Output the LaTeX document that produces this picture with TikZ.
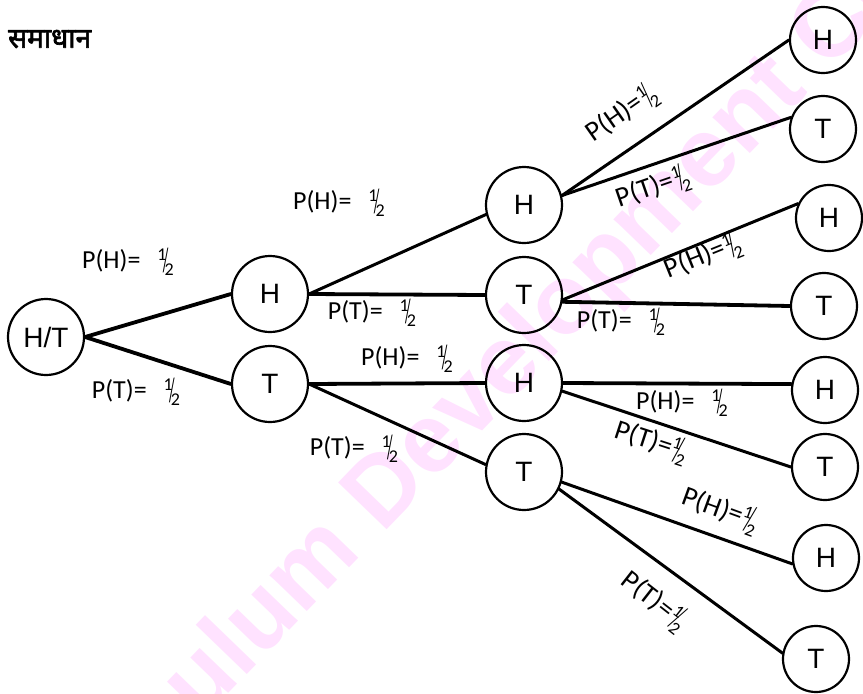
\documentclass[tikz,border=0pt]{standalone}
\usepackage{fontspec}
\setmainfont{Carlito}
\newfontfamily\coinfont{Liberation Sans}
\newfontfamily\devfont[Script=Devanagari, AutoFakeBold=2.5]{Noto Sans}
\definecolor{wmpink}{RGB}{255,226,255}
\newcommand{\pgap}{\hspace{0.65em}}
\newcommand{\half}{\raisebox{0.3em}{\fontsize{18}{18}\selectfont 1}\kern-0.14em\raisebox{-0.12em}{\scalebox{0.55}[1.3]{/}}\kern-0.14em\raisebox{-0.27em}{\fontsize{18}{18}\selectfont 2}}
\tikzset{
  coin/.style={circle, draw, line width=2.2pt, minimum size=76pt, inner sep=0pt, font=\coinfont\fontsize{28}{28}\selectfont},
  leaf/.style={coin, minimum size=66pt},
  prob/.style={inner sep=0pt, font=\fontsize{26}{26}\selectfont},
  tilted/.style={prob, font=\fontsize{28}{28}\selectfont},
  branch/.style={line width=3pt},
  heavy/.style={line width=3.8pt},
  wmark/.style={text=wmpink, font=\coinfont\bfseries\fontsize{98}{98}\selectfont},
  heading/.style={anchor=west, inner sep=0pt, font=\devfont\bfseries\fontsize{28}{28}\selectfont}
}
\begin{document}
\begin{tikzpicture}[x=1pt, y=-1pt, line cap=round, line join=round]
	\useasboundingbox (0,0) rectangle (863,694);
	
	\node[wmark, rotate=46] (mark) at (504,372) {Curriculum Development Centre};
	\node[heading] (sol) at (8,39) {समाधान};
	
	\node[coin] (S) at (46,337) {H/T};
	
	\node[coin] (H) at (270,294) {H};
	\node[coin] (T) at (270,384) {T};
	
	\node[coin] (HH) at (524,205) {H};
	\node[coin] (HT) at (524,295) {T};
	\node[coin] (TH) at (524,383) {H};
	\node[coin] (TT) at (524,472) {T};
	
	\node[leaf] (HHH) at (823,40) {H};
	\node[leaf] (HHT) at (823,129) {T};
	\node[leaf] (HTH) at (829,218) {H};
	\node[leaf] (HTT) at (824,306) {T};
	\node[leaf] (THH) at (825,390) {H};
	\node[leaf] (THT) at (825,467) {T};
	\node[leaf] (TTH) at (826,558) {H};
	\node[leaf] (TTT) at (816,659) {T};
	
	\draw[heavy] (S.east) -- (H.west);
	\draw[heavy] (S.east) -- (T.west);
	
	\draw[branch] (H.east) -- (HH.194);
	\draw[heavy] (H.east) -- (HT.west);
	\draw[heavy] (T.east) -- (TH.west);
	\draw[branch] (T.east) -- (TT.169);
	
	\draw[branch] (HH.14) -- (HHH.west);
	\draw[branch] (HH.14) -- (HHT.160);
	\draw[branch] (HT.-7) -- (HTH.155);
	\draw[heavy] (HT.-10) -- (HTT.west);
	\draw[heavy] (TH.east) -- (THH.170);
	\draw[branch] (TH.-12) -- (THT.west);
	\draw[branch] (TT.-15) -- (TTH.190);
	\draw[branch] (TT.-26) -- (TTT.170);
	
	\node[prob] (pH) at (128,262) {P(H)=\pgap\half};
	\node[prob] (pT) at (136,392) {P(T)=\pgap\half};
	
	\node[prob] (pHH) at (339,203) {P(H)=\pgap\half};
	\node[prob] (pHT) at (372,313) {P(T)=\pgap\half};
	\node[prob] (pTH) at (407,359) {P(H)=\pgap\half};
	\node[prob] (pTT) at (354,449) {P(T)=\pgap\half};
	
	\node[tilted, rotate=35] (pHHH) at (622,114) {P(H)=\half};
	\node[tilted, rotate=19] (pHHT) at (653,188) {P(T)=\half};
	\node[tilted, rotate=22] (pHTH) at (703,257) {P(H)=\half};
	\node[prob] (pHTT) at (621,322) {P(T)=\pgap\half};
	\node[prob] (pTHH) at (682,403) {P(H)=\pgap\half};
	\node[tilted, rotate=-18] (pTHT) at (651,442) {P(T)=\half};
	\node[tilted, rotate=-20] (pTTH) at (720,510) {P(H)=\half};
	\node[tilted, rotate=-38] (pTTT) at (654,601) {P(T)=\half};
	
\end{tikzpicture}
\end{document}
